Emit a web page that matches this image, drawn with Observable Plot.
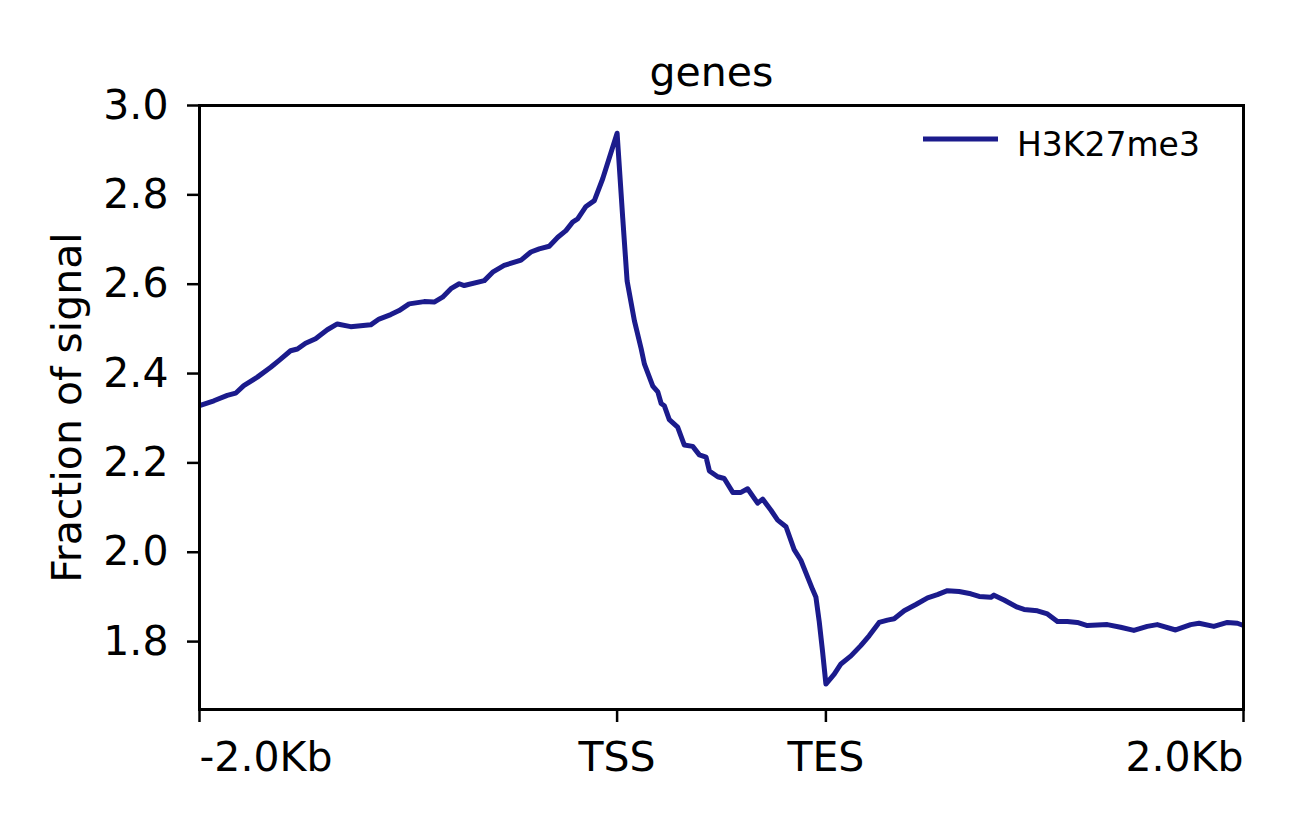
<!DOCTYPE html>
<html>
<head>
<meta charset="utf-8">
<script src="https://cdn.jsdelivr.net/npm/d3@7"></script>
<script src="https://cdn.jsdelivr.net/npm/@observablehq/plot@0.6"></script>
<style>
  html, body { margin: 0; padding: 0; background: #fff; }
  #chart svg { display: block; }
</style>
</head>
<body>
<div id="chart"></div>
<script>
// Position along the scaled-region profile (bp): -2000 = upstream start, 0 = TSS, 1000 = TES, 3000 = downstream end
const positions = [
  -2000, -1931, -1867, -1827, -1788, -1723, -1659, -1620, -1564, -1531,
  -1492, -1444, -1388, -1340, -1276, -1180, -1140, -1084, -1044, -996,
  -924, -876, -836, -796, -756, -732, -636, -596, -541, -460,
  -413, -373, -325, -284, -245, -213, -189, -149, -109, -69,
  0,
  27, 48, 83, 115, 131, 171, 195, 211, 226,
  250, 290, 322, 362, 394, 426, 442, 482, 513, 554,
  593, 625, 673, 697, 737, 769, 809, 848, 880, 936,
  952, 968, 984,
  1000, 1040, 1072, 1120, 1167, 1207, 1255, 1295, 1327, 1375,
  1431, 1487, 1534, 1582, 1638, 1694, 1734, 1790, 1805, 1853,
  1917, 1949, 2013, 2061, 2109, 2156, 2204, 2252, 2348, 2411,
  2475, 2539, 2587, 2675, 2747, 2787, 2858, 2923, 2971, 3000
];
const h3k27me3 = [
  2.328, 2.339, 2.351, 2.356, 2.373, 2.392, 2.414, 2.429, 2.451, 2.455,
  2.468, 2.478, 2.498, 2.511, 2.505, 2.509, 2.522, 2.532, 2.541, 2.556,
  2.561, 2.560, 2.571, 2.590, 2.601, 2.597, 2.608, 2.627, 2.642, 2.654,
  2.672, 2.679, 2.685, 2.705, 2.720, 2.739, 2.746, 2.774, 2.787, 2.836,
  2.938,
  2.748, 2.607, 2.518, 2.456, 2.421, 2.372, 2.359, 2.333, 2.328,
  2.297, 2.280, 2.240, 2.237, 2.218, 2.213, 2.182, 2.169, 2.165, 2.134,
  2.134, 2.142, 2.110, 2.119, 2.094, 2.072, 2.057, 2.006, 1.982, 1.917,
  1.900, 1.845, 1.778,
  1.705, 1.727, 1.750, 1.768, 1.791, 1.813, 1.843, 1.848, 1.851, 1.869,
  1.883, 1.898, 1.905, 1.914, 1.912, 1.907, 1.901, 1.899, 1.904, 1.893,
  1.877, 1.872, 1.869, 1.862, 1.845, 1.845, 1.843, 1.836, 1.838, 1.832,
  1.825, 1.834, 1.838, 1.826, 1.838, 1.841, 1.834, 1.843, 1.841, 1.836
];
const xTicks = [-2000, 0, 1000, 3000];
const xTickLabels = ["-2.0Kb", "TSS", "TES", "2.0Kb"];
const yTicks = [1.8, 2.0, 2.2, 2.4, 2.6, 2.8, 3.0];
const yDomain = [1.648, 3.0];
const seriesName = "H3K27me3";
const titleText = "genes";
const yLabelText = "Fraction of signal";

const lineColor = "#1b1b8c";
const font = "DejaVu Sans";
const data = positions.map((p, i) => ({pos: p, value: h3k27me3[i]}));
const labelOf = v => xTickLabels[xTicks.indexOf(v)];

function legend(index, scales, values, dims) {
  const g = d3.create("svg:g");
  const xr = dims.width - dims.marginRight;
  const top = dims.marginTop;
  g.append("line")
    .attr("x1", xr - 320).attr("x2", xr - 245)
    .attr("y1", top + 34).attr("y2", top + 34)
    .attr("stroke", lineColor).attr("stroke-width", 5);
  g.append("text")
    .attr("x", xr - 226).attr("y", top + 51)
    .attr("text-anchor", "start")
    .attr("font-family", font).attr("font-size", 33)
    .attr("fill", "black")
    .text(seriesName);
  return g.node();
}

const axisCommon = {
  tickSize: 13, tickPadding: 19, fontSize: 41, strokeWidth: 2.5, label: null,
  tickFormat: labelOf
};

const chart = Plot.plot({
  width: 1299,
  height: 827,
  marginLeft: 199,
  marginRight: 56,
  marginTop: 105,
  marginBottom: 118,
  style: {fontFamily: font, background: "white", color: "black"},
  x: {type: "linear", domain: [-2000, 3000]},
  y: {type: "linear", domain: yDomain},
  marks: [
    Plot.line(data, {x: "pos", y: "value", stroke: lineColor, strokeWidth: 5, strokeLinejoin: "round", strokeLinecap: "butt"}),
    Plot.frame({stroke: "black", strokeWidth: 3}),
    Plot.axisY({ticks: yTicks, tickSize: 12, tickPadding: 19, fontSize: 41, strokeWidth: 2.5, label: null, tickFormat: d3.format(".1f")}),
    Plot.axisX({...axisCommon, ticks: [xTicks[0]], textAnchor: "start"}),
    Plot.axisX({...axisCommon, ticks: xTicks.slice(1, 3)}),
    Plot.axisX({...axisCommon, ticks: [xTicks[3]], textAnchor: "end"}),
    Plot.text([titleText], {text: d => d, frameAnchor: "top", lineAnchor: "bottom", dy: -20, dx: -10, fontSize: 41, fill: "black"}),
    Plot.text([yLabelText], {text: d => d, frameAnchor: "left", textAnchor: "middle", rotate: -90, lineAnchor: "bottom", dx: -119, fontSize: 41, fill: "black"}),
    legend
  ]
});
document.getElementById("chart").append(chart);
</script>
</body>
</html>
